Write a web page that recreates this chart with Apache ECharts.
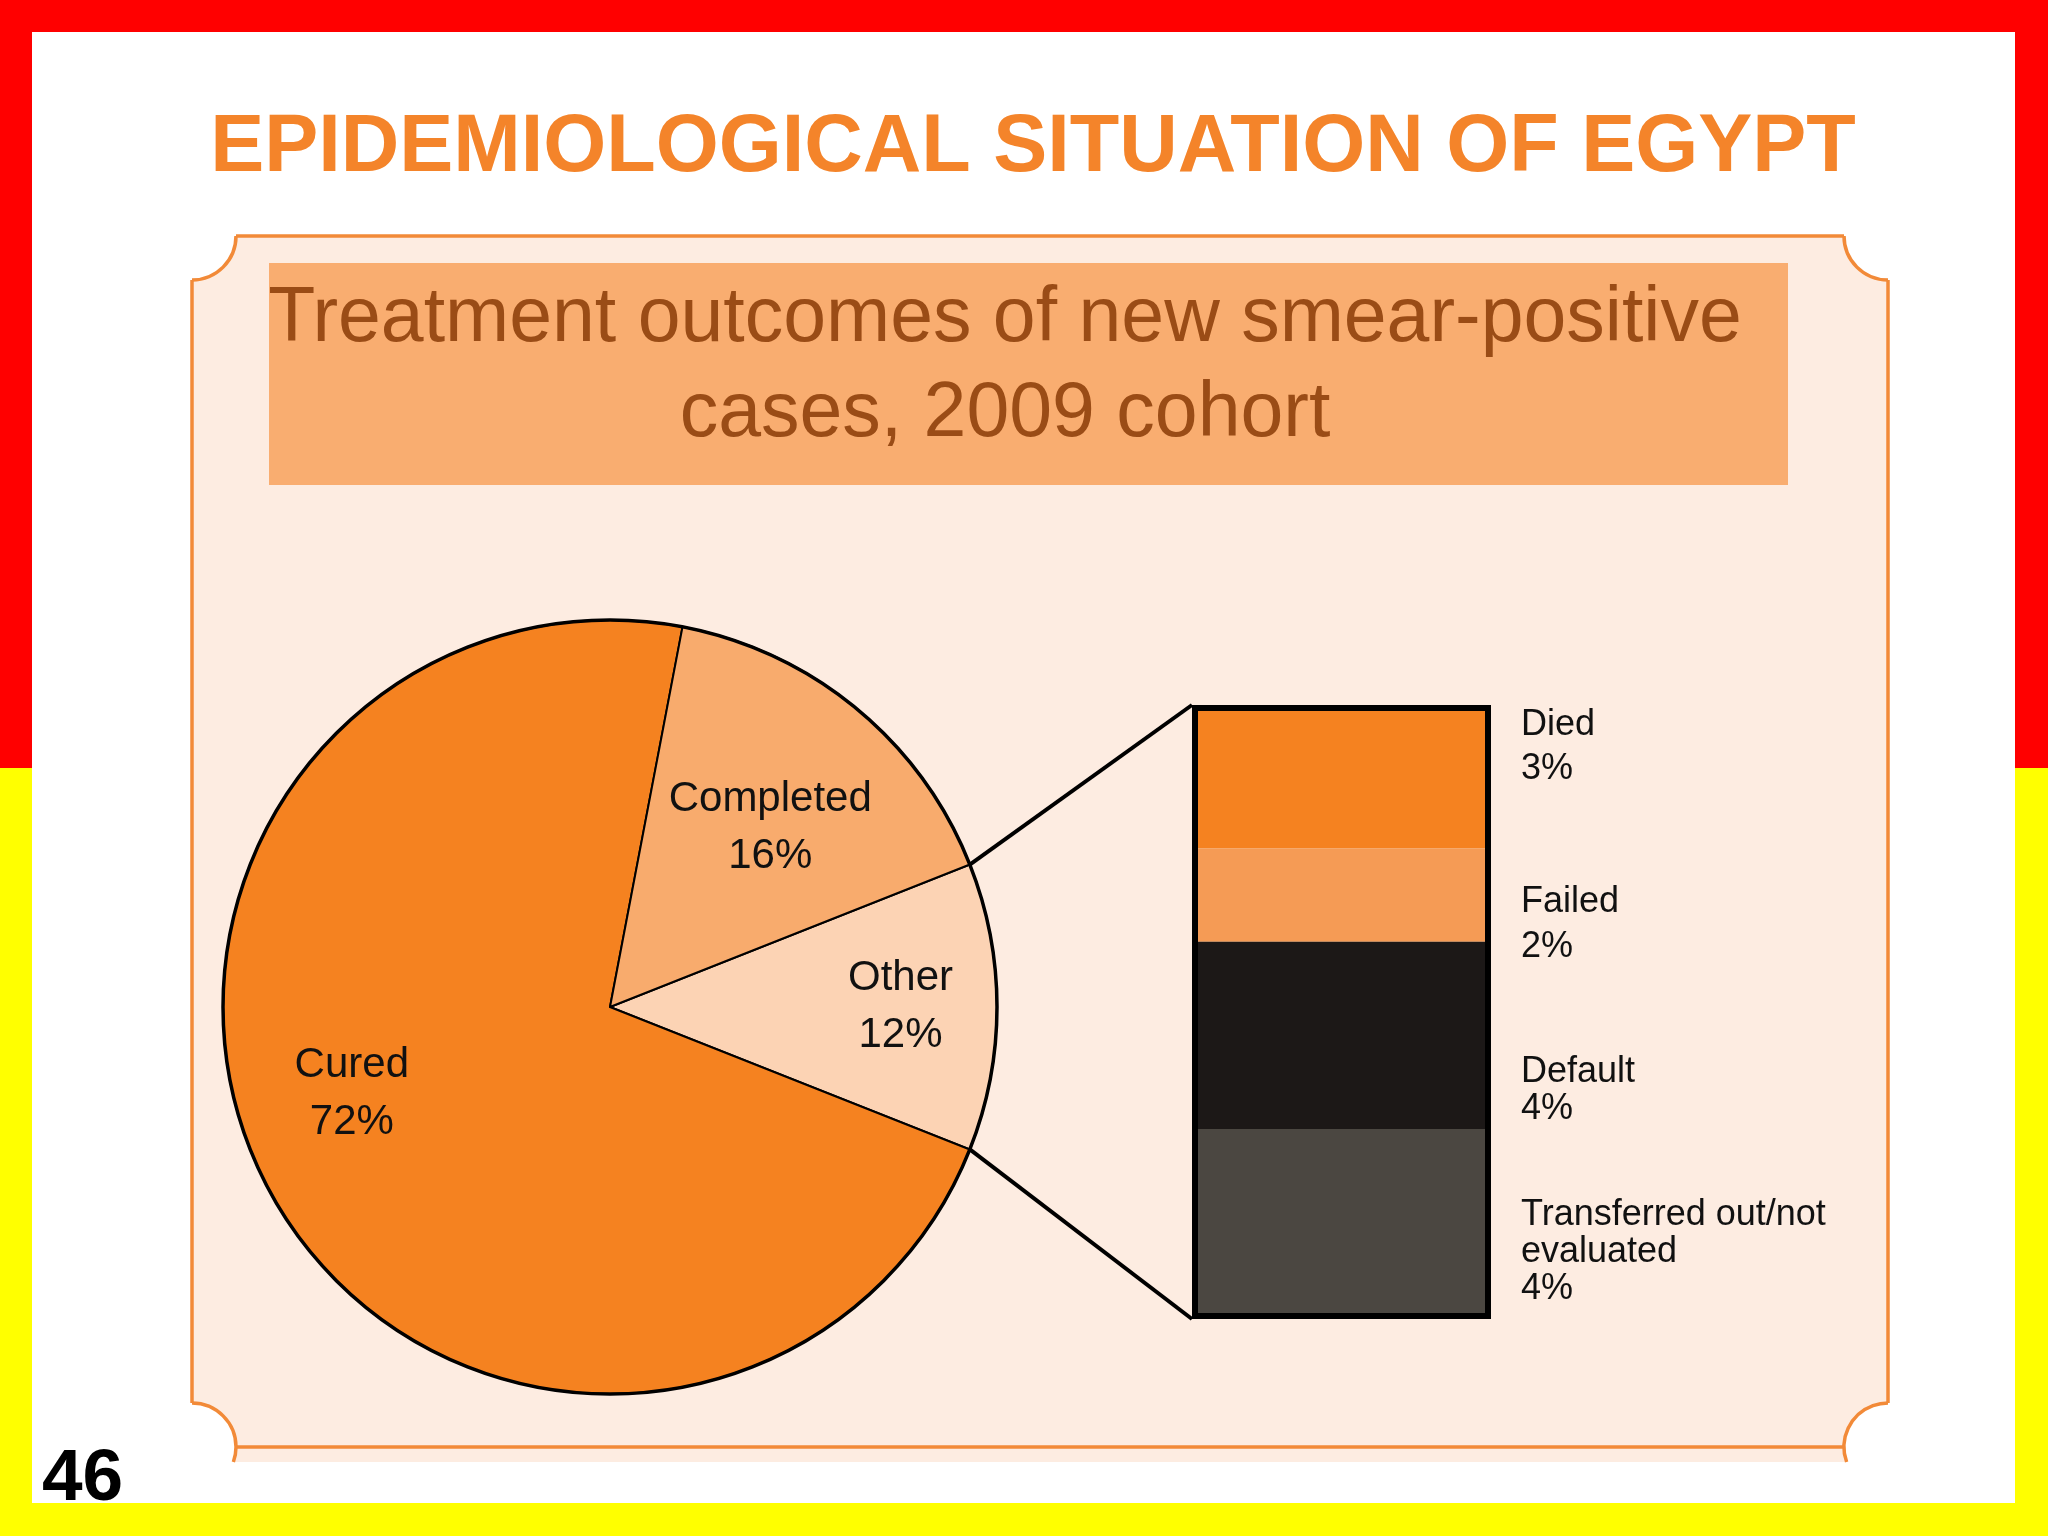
<!DOCTYPE html>
<html>
<head>
<meta charset="utf-8">
<script src="https://cdn.jsdelivr.net/npm/echarts@6/dist/echarts.min.js"></script>
<style>
html,body{margin:0;padding:0;background:#ffffff;}
#chart{width:2048px;height:1536px;}
</style>
</head>
<body>
<div id="chart"></div>
<script>
// ---- data ----
const pieNames = ['Other', 'Cured', 'Completed'];
const pieValues = [12, 72, 16];
const barNames = ['Died', 'Failed', 'Default', 'Transferred out/not evaluated'];
const barLabelText = ['Died', 'Failed', 'Default', 'Transferred out/not\nevaluated'];
const barValues = [3, 2, 4, 4];
const slideTitle = 'EPIDEMIOLOGICAL SITUATION OF EGYPT';
const chartTitle1 = 'Treatment outcomes of new smear-positive';
const chartTitle2 = 'cases, 2009 cohort';
const slideNumber = '46';

// ---- styles / layout ----
const pieColors = ['#FCD3B4', '#F58220', '#F8AB6D'];
const barColors = ['#F58220', '#F59B55', '#1C1817', '#4B4741'];
const pieCenter = [610, 1007];
const pieRadius = 387;
const pieLabelShift = [[94, 0], [-86, -8], [35, -28]];
const barLabelShift = [-31, 30, 55, 30];
const barLabelLH = [44, 45, 37, 37];
const grid = {left: 1195, top: 708, width: 293, height: 608};

const pieTotal = pieValues.reduce((a, b) => a + b, 0);
const halfOther = pieValues[0] / pieTotal * 180; // degrees
const startAngle = halfOther;
const rad = halfOther * Math.PI / 180;
const pUp = [pieCenter[0] + pieRadius * Math.cos(rad), pieCenter[1] - pieRadius * Math.sin(rad)];
const pDn = [pieCenter[0] + pieRadius * Math.cos(rad), pieCenter[1] + pieRadius * Math.sin(rad)];
const boxTL = [grid.left - 3, grid.top - 3];
const boxBL = [grid.left - 3, grid.top + grid.height + 3];
const barTotal = barValues.reduce((a, b) => a + b, 0);

// frame geometry
const F = {l: 192, t: 236, r: 1888, b: 1447, fb: 1462, cr: 44};
const frameStroke = '#F28A38';
const frameFill = '#FDECE1';
const frameLW = 3.5;
const bAng = Math.asin((F.fb - F.b) / F.cr);

const chart = echarts.init(document.getElementById('chart'), null, {renderer: 'canvas'});

const barSeries = barNames.map((name, i) => ({
  type: 'bar',
  name: name,
  stack: 'other',
  barWidth: '100%',
  silent: true,
  data: [barValues[i]],
  itemStyle: {color: barColors[i]},
  label: {
    show: true,
    position: 'right',
    distance: 33,
    offset: [0, barLabelShift[i]],
    align: 'left',
    fontFamily: 'Liberation Sans, Arial, sans-serif',
    fontSize: 36,
    lineHeight: barLabelLH[i],
    color: '#111111',
    formatter: () => barLabelText[i] + '\n' + barValues[i] + '%'
  }
}));

const frameEls = [
  {type: 'rect', z: 0, shape: {x: F.l, y: F.t, width: F.r - F.l, height: F.fb - F.t}, style: {fill: frameFill}},
  {type: 'circle', z: 0, shape: {cx: F.l, cy: F.t, r: F.cr}, style: {fill: '#FFFFFF'}},
  {type: 'circle', z: 0, shape: {cx: F.r, cy: F.t, r: F.cr}, style: {fill: '#FFFFFF'}},
  {type: 'circle', z: 0, shape: {cx: F.l, cy: F.b, r: F.cr}, style: {fill: '#FFFFFF'}},
  {type: 'circle', z: 0, shape: {cx: F.r, cy: F.b, r: F.cr}, style: {fill: '#FFFFFF'}},
  {type: 'line', z: 0, shape: {x1: F.l + F.cr, y1: F.t, x2: F.r - F.cr, y2: F.t}, style: {stroke: frameStroke, lineWidth: frameLW}},
  {type: 'line', z: 0, shape: {x1: F.l + F.cr, y1: F.b, x2: F.r - F.cr, y2: F.b}, style: {stroke: frameStroke, lineWidth: frameLW}},
  {type: 'line', z: 0, shape: {x1: F.l, y1: F.t + F.cr, x2: F.l, y2: F.b - F.cr}, style: {stroke: frameStroke, lineWidth: frameLW}},
  {type: 'line', z: 0, shape: {x1: F.r, y1: F.t + F.cr, x2: F.r, y2: F.b - F.cr}, style: {stroke: frameStroke, lineWidth: frameLW}},
  {type: 'arc', z: 0, shape: {cx: F.l, cy: F.t, r: F.cr, startAngle: 0, endAngle: Math.PI / 2, clockwise: true}, style: {stroke: frameStroke, lineWidth: frameLW, fill: null}},
  {type: 'arc', z: 0, shape: {cx: F.r, cy: F.t, r: F.cr, startAngle: Math.PI / 2, endAngle: Math.PI, clockwise: true}, style: {stroke: frameStroke, lineWidth: frameLW, fill: null}},
  {type: 'arc', z: 0, shape: {cx: F.r, cy: F.b, r: F.cr, startAngle: Math.PI - bAng, endAngle: Math.PI * 1.5, clockwise: true}, style: {stroke: frameStroke, lineWidth: frameLW, fill: null}},
  {type: 'arc', z: 0, shape: {cx: F.l, cy: F.b, r: F.cr, startAngle: -Math.PI / 2, endAngle: bAng, clockwise: true}, style: {stroke: frameStroke, lineWidth: frameLW, fill: null}}
];

const option = {
  animation: false,
  grid: {
    show: true,
    left: grid.left, top: grid.top, width: grid.width, height: grid.height,
    borderColor: '#000000', borderWidth: 6, backgroundColor: 'transparent', z: 3
  },
  xAxis: {type: 'category', data: ['Other'], show: false},
  yAxis: {type: 'value', min: 0, max: barTotal, inverse: true, show: false, splitLine: {show: false}},
  graphic: {
    elements: [
      // slide border bands
      {type: 'rect', z: 0, shape: {x: 0, y: 0, width: 2048, height: 768}, style: {fill: '#FF0000'}},
      {type: 'rect', z: 0, shape: {x: 0, y: 768, width: 2048, height: 768}, style: {fill: '#FFFF00'}},
      {type: 'rect', z: 0, shape: {x: 32, y: 32, width: 1983, height: 1471}, style: {fill: '#FFFFFF'}}
    ].concat(frameEls).concat([
      // subtitle box
      {type: 'rect', z: 0, shape: {x: 269, y: 263, width: 1519, height: 222}, style: {fill: '#F9AD70'}},
      {type: 'text', z: 1, x: 1005, y: 320, style: {text: chartTitle1, fill: '#9A4C16', font: '77px "Liberation Sans", Arial, sans-serif', align: 'center', verticalAlign: 'middle'}},
      {type: 'text', z: 1, x: 1005, y: 415, style: {text: chartTitle2, fill: '#9A4C16', font: '77px "Liberation Sans", Arial, sans-serif', align: 'center', verticalAlign: 'middle'}},
      // slide title
      {type: 'text', z: 1, x: 1033, y: 149, style: {text: slideTitle, fill: '#F4842A', font: 'bold 81px "Liberation Sans", Arial, sans-serif', align: 'center', verticalAlign: 'middle'}},
      // slide number
      {type: 'text', z: 1, x: 42, y: 1480, style: {text: slideNumber, fill: '#000000', font: 'bold 73px "Liberation Sans", Arial, sans-serif', align: 'left', verticalAlign: 'middle'}},
      // connector lines
      {type: 'line', z: 1, shape: {x1: pUp[0], y1: pUp[1], x2: boxTL[0], y2: boxTL[1]}, style: {stroke: '#000000', lineWidth: 4}},
      {type: 'line', z: 1, shape: {x1: pDn[0], y1: pDn[1], x2: boxBL[0], y2: boxBL[1]}, style: {stroke: '#000000', lineWidth: 4}},
      // heavier outer rim of the pie
      {type: 'circle', z: 10, silent: true, shape: {cx: pieCenter[0], cy: pieCenter[1], r: pieRadius}, style: {fill: null, stroke: '#000000', lineWidth: 3.5}}
    ])
  },
  series: [
    {
      type: 'pie',
      center: pieCenter,
      radius: pieRadius,
      startAngle: startAngle,
      clockwise: true,
      silent: true,
      data: pieNames.map((n, i) => ({name: n, value: pieValues[i], itemStyle: {color: pieColors[i]}})),
      itemStyle: {borderColor: '#000000', borderWidth: 2},
      label: {
        show: true,
        position: 'inside',
        formatter: '{b}\n{c}%',
        fontFamily: 'Liberation Sans, Arial, sans-serif',
        fontSize: 42,
        lineHeight: 57,
        color: '#111111'
      },
      labelLine: {show: false},
      labelLayout: function (params) {
        const s = pieLabelShift[params.dataIndex];
        return {dx: s[0], dy: s[1]};
      }
    }
  ].concat(barSeries)
};
chart.setOption(option);
</script>
</body>
</html>
